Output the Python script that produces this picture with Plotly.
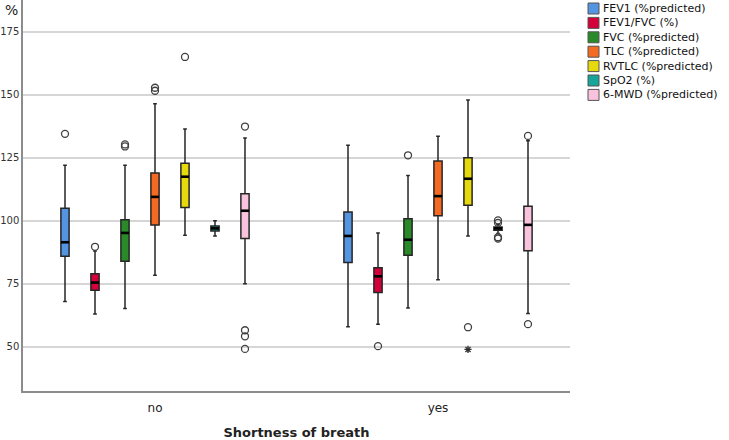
import plotly.graph_objects as go

# ---------------- data ----------------
categories = ["no", "yes"]
series_names = ["FEV1 (%predicted)", "FEV1/FVC (%)", "FVC (%predicted)",
                "TLC (%predicted)", "RVTLC (%predicted)", "SpO2 (%)",
                "6-MWD (%predicted)"]

# each row: [no, yes]
lower_whisker = [[68.0, 58.0], [63.0, 59.0], [65.2, 65.4], [78.4, 76.6],
                 [94.3, 94.0], [94.0, 95.0], [75.0, 63.2]]
q1_values = [[86.0, 83.5], [72.5, 71.6], [84.0, 86.3], [98.3, 102.0],
             [105.3, 106.2], [96.0, 96.3], [93.0, 88.1]]
median_values = [[91.5, 94.0], [75.5, 78.0], [95.2, 92.5], [109.5, 109.8],
                 [117.5, 116.7], [97.0, 97.0], [104.0, 98.4]]
q3_values = [[105.0, 103.5], [79.0, 81.4], [100.4, 100.8], [119.0, 123.7],
             [122.8, 125.0], [98.0, 97.6], [110.7, 105.8]]
upper_whisker = [[122.0, 130.0], [88.0, 95.2], [122.0, 118.0], [146.4, 133.6],
                 [136.4, 147.9], [100.0, 98.5], [132.9, 131.8]]
outlier_values = [
    [[134.5], []],
    [[89.7], [50.3]],
    [[129.5, 130.3], [126.0]],
    [[151.6, 152.8], []],
    [[165.0], [57.8]],
    [[], [100.2, 99.2, 93.0, 93.5]],
    [[137.4, 56.6, 54.2, 49.2], [133.7, 59.0]],
]
extreme_values = [
    [[], []], [[], []], [[], []], [[], []],
    [[], [49.0]],
    [[], []], [[], []],
]
y_ticks = [50, 75, 100, 125, 150, 175]

# ---------------- style ----------------
colors = ["#5594e0", "#d4003a", "#2a8a2a", "#f56a22", "#e6da0e", "#16a598", "#f9c3de"]
font_family = "DejaVu Sans"
n_series = len(series_names)
step = 0.106          # spacing between boxes within a group (category units)
box_w = 0.029         # box width (category units)

# plot-area pixel geometry (for legend placement)
W, H = 729, 440
ml, mr, mt, mb = 23, 159, 0, 49
pw, ph = W - ml - mr, H - mt - mb


def px_x(px):
    return (px - ml) / pw


def px_y(py):
    return (H - mb - py) / ph


fig = go.Figure()

for i, name in enumerate(series_names):
    pos = [c + (i - (n_series - 1) / 2) * step for c in range(len(categories))]
    fig.add_trace(go.Box(
        x=pos,
        q1=q1_values[i], median=median_values[i], q3=q3_values[i],
        lowerfence=lower_whisker[i], upperfence=upper_whisker[i],
        width=box_w, whiskerwidth=0.45,
        fillcolor=colors[i],
        line=dict(color="#262626", width=1.5),
        boxpoints=False, name=name, showlegend=False, hoverinfo="skip",
    ))
    # thicker median line
    mx, my = [], []
    for p, m in zip(pos, median_values[i]):
        mx += [p - box_w / 2, p + box_w / 2, None]
        my += [m, m, None]
    fig.add_trace(go.Scatter(x=mx, y=my, mode="lines",
                             line=dict(color="black", width=2.6),
                             showlegend=False, hoverinfo="skip"))
    # outliers
    ox, oy = [], []
    for p, vals in zip(pos, outlier_values[i]):
        ox += [p] * len(vals)
        oy += vals
    if oy:
        fig.add_trace(go.Scatter(x=ox, y=oy, mode="markers",
                                 marker=dict(symbol="circle-open", size=7,
                                             color="#404040", line=dict(width=1.3)),
                                 showlegend=False, hoverinfo="skip"))
    ex, ey = [], []
    for p, vals in zip(pos, extreme_values[i]):
        ex += [p] * len(vals)
        ey += vals
    if ey:
        fig.add_trace(go.Scatter(x=ex, y=ey, mode="markers",
                                 marker=dict(symbol="asterisk-open", size=6,
                                             color="#303030", line=dict(width=1.3)),
                                 showlegend=False, hoverinfo="skip"))

# custom compact legend
shapes = []
annotations = []
for i, name in enumerate(series_names):
    cy = 8.5 + i * 14.4
    shapes.append(dict(type="rect", xref="paper", yref="paper",
                       x0=px_x(588), x1=px_x(599), y0=px_y(cy + 5.5), y1=px_y(cy - 5.5),
                       fillcolor=colors[i], line=dict(color="#555555", width=1)))
    annotations.append(dict(text=name, xref="paper", yref="paper",
                            x=px_x(601), y=px_y(cy), xanchor="left", yanchor="middle",
                            showarrow=False, font=dict(size=11, color="#111111",
                                                       family=font_family)))

annotations.append(dict(text="%", xref="paper", yref="paper", x=px_x(20), y=px_y(10),
                        xanchor="right", yanchor="middle", showarrow=False,
                        font=dict(size=14, color="#222222", family=font_family)))

fig.update_layout(
    width=W, height=H,
    margin=dict(l=ml, r=mr, t=mt, b=mb, pad=0),
    paper_bgcolor="white", plot_bgcolor="white",
    font=dict(family=font_family, color="#222222"),
    boxmode="overlay",
    showlegend=False,
    shapes=shapes,
    annotations=annotations,
    xaxis=dict(
        range=[-0.4664, 1.4664],
        tickmode="array", tickvals=list(range(len(categories))), ticktext=categories,
        showgrid=False, zeroline=False, showline=True, linecolor="#8c8c8c", linewidth=1.5,
        ticks="outside", ticklen=5, tickcolor="rgba(0,0,0,0)",
        tickfont=dict(size=12, color="#222222"),
        title=dict(text="<b>Shortness of breath</b>", font=dict(size=13, color="#222222"),
                   standoff=15),
        automargin=False,
    ),
    yaxis=dict(
        range=[32.5, 187.6],
        tickmode="array", tickvals=y_ticks,
        showgrid=True, gridcolor="#d6d6d6", gridwidth=1.5,
        zeroline=False, showline=True, linecolor="#8c8c8c", linewidth=1.5,
        ticks="", tickfont=dict(size=10, color="#333333"),
        automargin=False,
    ),
)

fig.write_html("out.html", config={"displayModeBar": False},
               post_script="document.body.style.margin='0';")
